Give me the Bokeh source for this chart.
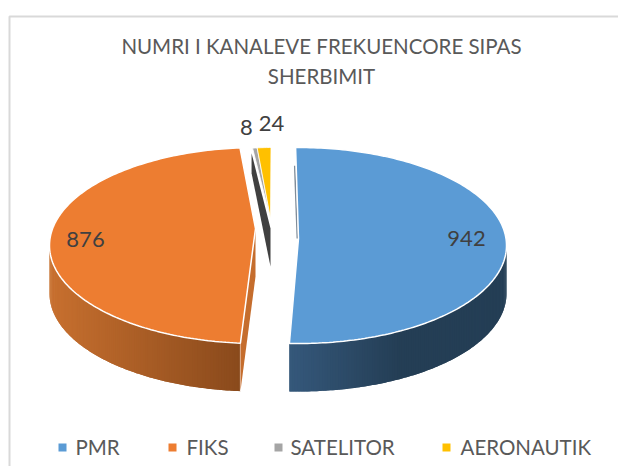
import math
from bokeh.plotting import figure
from bokeh.models import Range1d
from bokeh.core.properties import value
from bokeh.embed import file_html
from bokeh.resources import INLINE

# ---- data ----
categories = ["PMR", "FIKS", "SATELITOR", "AERONAUTIK"]
channels = [942, 876, 8, 24]
colors = ["#5B9BD5", "#ED7D31", "#A5A5A5", "#FFC000"]
title_lines = ["NUMRI I KANALEVE FREKUENCORE SIPAS", "SHERBIMIT"]

# ---- layout (page pixel coordinates) ----
CY, RY, DEPTH = 245, 98, 48
centers = [298, 257, 272, 272]
radii_x = [208, 208, 170, 170]
rotate = [-0.8, 1.4, -0.5, -0.5]
tips = [(298, 238), (255, 228), (270, 218), (270, 218)]
label_pos = [(466, 238), (85, 239), (246, 127), (271, 123)]
legend_sq_x = [62, 172, 278, 446]
legend_tx_x = [75, 186, 290, 460]

p = figure(width=618, height=466, x_range=Range1d(0, 618), y_range=Range1d(466, 0),
           output_backend="svg", toolbar_location=None, min_border=0,
           outline_line_color=None, background_fill_color="white")
p.xaxis.visible = False
p.yaxis.visible = False
p.grid.visible = False

total = sum(channels)
bounds, acc = [], 0.0
for v in channels:
    bounds.append((acc, acc + v / total * 360))
    acc += v / total * 360


def rim(i, deg):
    t = math.radians(deg)
    return centers[i] + radii_x[i] * math.sin(t), CY - RY * math.cos(t)


def arc(i, a0, a1, step=1.0):
    n = max(2, int(abs(a1 - a0) / step) + 1)
    return [rim(i, a0 + (a1 - a0) * k / (n - 1)) for k in range(n)]


def mix(c0, c1, f):
    f = max(0.0, min(1.0, f))
    return "#%02x%02x%02x" % tuple(round(a + (b - a) * f) for a, b in zip(c0, c1))


def wall(i, a0, a1, colfn):
    # painted from one end with each strip reaching over the next, so no seams show
    pts = arc(i, a0, a1, 0.75)
    for k in range(len(pts) - 1):
        x0, y0 = pts[k]
        rest = pts[k:min(k + 3, len(pts))]
        xs = [q[0] for q in rest] + [q[0] for q in reversed(rest)]
        ys = [q[1] for q in rest] + [q[1] + DEPTH for q in reversed(rest)]
        p.patch(xs, ys, fill_color=colfn(x0), line_color=None)


s = [(b[0] + r, b[1] + r) for b, r in zip(bounds, rotate)]

# outer walls with shading
wall(1, s[1][0], 270, lambda x: mix((0x8a, 0x4a, 0x1c), (0xc8, 0x70, 0x2f), (240 - x) / 191))
wall(0, 90, s[0][1], lambda x: mix((0x35, 0x58, 0x7b), (0x24, 0x3e, 0x55), (x - 290) / 110))
ox, oy = rim(1, s[1][0])
p.line([ox, ox], [oy, oy + DEPTH], line_color="white", line_width=1)

# orange cut face
tx, ty = tips[1]
p.patch([tx, tx, ox, ox], [ty, ty + DEPTH, oy + DEPTH, oy], fill_color="#C56D2D", line_color=None)

# dark cut face behind the two small slices
gx, gy = rim(2, s[2][0])
tx, ty = tips[2]
p.patch([tx, tx, gx - 1, gx - 1], [ty + 10, ty + DEPTH, gy + 25, gy + 5],
        fill_color="#404040", line_color=None)

# blue cut-face sliver
bx, by = rim(0, s[0][0])
tx, ty = tips[0]
p.line([bx - 1.5 + (tx - bx) * 0.2, tx - 1.2], [by + (ty - by) * 0.2, ty],
       line_color="#7F8C99", line_width=1.5)

# top faces
for i, col in enumerate(colors):
    a0, a1 = s[i]
    pts = arc(i, a0, a1, 1.0 if a1 - a0 > 10 else 0.5)
    xs = [tips[i][0]] + [q[0] for q in pts]
    ys = [tips[i][1]] + [q[1] for q in pts]
    p.patch(xs, ys, fill_color=col, line_color="white", line_width=1.5 if i < 2 else 0.8)

# data labels
p.text([q[0] for q in label_pos], [q[1] for q in label_pos], text=[str(v) for v in channels],
       text_font=value("Lato"), text_font_size="22px", text_color="#404040",
       text_align="center", text_baseline="middle")

# title
p.text([321, 321], [45, 75], text=title_lines, text_font=value("Lato"), text_font_size="20.5px",
       text_color="#595959", text_align="center", text_baseline="middle")

# legend
p.scatter(legend_sq_x, [447] * 4, marker="square", size=8, fill_color=colors, line_color=None)
p.text(legend_tx_x, [446] * 4, text=categories, text_font=value("Lato"), text_font_size="20.5px",
       text_color="#595959", text_align="left", text_baseline="middle")

# chart frame (left and top edges)
p.line([9, 9, 618], [466, 16, 16], line_color="#D9D9D9", line_width=2)

open("out.html", "w").write(file_html(p, INLINE))
